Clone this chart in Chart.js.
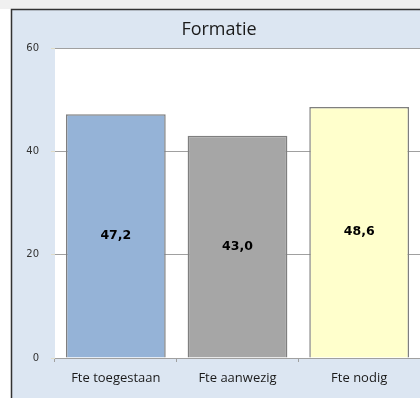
<!DOCTYPE html>
<html>
<head>
<meta charset="utf-8">
<script src="https://cdn.jsdelivr.net/npm/chart.js@4/dist/chart.umd.min.js"></script>
<style>
  html, body { margin: 0; padding: 0; background: #ffffff; }
  #wrap { width: 420px; height: 398px; }
</style>
</head>
<body>
<div id="wrap"><canvas id="formatieChart" width="420" height="398"></canvas></div>
<script>
const chartTitle = "Formatie";
const categories = ["Fte toegestaan", "Fte aanwezig", "Fte nodig"];
const fteValues = [47.2, 43.0, 48.6];
const barColors = ["#95b3d7", "#a6a6a6", "#ffffcc"];
const yTicks = [0, 20, 40, 60];

// frame + light blue background behind the chart, and the title
const backgroundPlugin = {
  id: "frameBackground",
  beforeDraw: function (chart) {
    let ctx = chart.ctx;
    let area = chart.chartArea;
    ctx.save();
    ctx.fillStyle = "#ffffff";
    ctx.fillRect(0, 0, chart.width, chart.height);
    ctx.fillStyle = "#f0f0f0";
    ctx.fillRect(0, 0, chart.width, 9);
    ctx.fillStyle = "#dce6f2";
    ctx.fillRect(11, 9, chart.width - 11, chart.height - 9);
    ctx.fillStyle = "#ffffff";
    ctx.fillRect(area.left, area.top, area.right - area.left, area.bottom - area.top);
    ctx.strokeStyle = "#333333";
    ctx.lineWidth = 1.5;
    ctx.beginPath();
    ctx.moveTo(11.5, chart.height);
    ctx.lineTo(11.5, 9.5);
    ctx.lineTo(chart.width, 9.5);
    ctx.stroke();

    ctx.fillStyle = "#1a1a1a";
    ctx.font = "18px 'Open Sans', sans-serif";
    ctx.textAlign = "center";
    ctx.textBaseline = "middle";
    ctx.fillText(chartTitle, 219, 30);
    ctx.restore();
  },
};

// value labels in the middle of each bar
const valueLabelPlugin = {
  id: "valueLabels",
  afterDatasetsDraw: function (chart) {
    let ctx = chart.ctx;
    let meta = chart.getDatasetMeta(0);
    ctx.save();
    ctx.font = "bold 12.5px 'DejaVu Sans', sans-serif";
    ctx.fillStyle = "#000000";
    ctx.textAlign = "center";
    ctx.textBaseline = "middle";
    for (let i = 0; i < meta.data.length; i++) {
      let bar = meta.data[i];
      let text = fteValues[i].toFixed(1).replace(".", ",");
      ctx.fillText(text, bar.x, (bar.y + bar.base) / 2);
    }
    ctx.restore();
  },
};

const formatieCanvas = document.getElementById("formatieChart");

let formatieChart = new Chart(formatieCanvas, {
  type: "bar",
  data: {
    labels: categories,
    datasets: [
      {
        data: fteValues,
        backgroundColor: barColors,
        borderColor: "#7f7f7f",
        borderWidth: 1.5,
        barPercentage: 0.82,
        categoryPercentage: 1,
      },
    ],
  },
  options: {
    responsive: false,
    animation: false,
    layout: { padding: { top: 48 } },
    plugins: {
      legend: { display: false },
      tooltip: { enabled: false },
      title: { display: false },
    },
    scales: {
      x: {
        afterFit: function (scale) {
          scale.height = 40;
        },
        grid: {
          offset: true,
          drawOnChartArea: false,
          tickLength: 4,
          color: "#a0a0a0",
        },
        border: { color: "#a0a0a0", width: 1 },
        ticks: {
          color: "#1a1a1a",
          padding: 8,
          font: { family: "'Open Sans', sans-serif", size: 13 },
        },
      },
      y: {
        min: 0,
        max: 60,
        afterFit: function (scale) {
          scale.width = 55;
        },
        afterBuildTicks: function (scale) {
          scale.ticks = yTicks.map(function (v) {
            return { value: v };
          });
        },
        grid: {
          color: "#a0a0a0",
          tickColor: "#e0ddc8",
          tickLength: 4,
        },
        border: { display: false },
        ticks: {
          color: "#333333",
          padding: 12,
          font: { family: "'DejaVu Sans', sans-serif", size: 10 },
        },
      },
    },
  },
  plugins: [backgroundPlugin, valueLabelPlugin],
});
</script>
</body>
</html>
